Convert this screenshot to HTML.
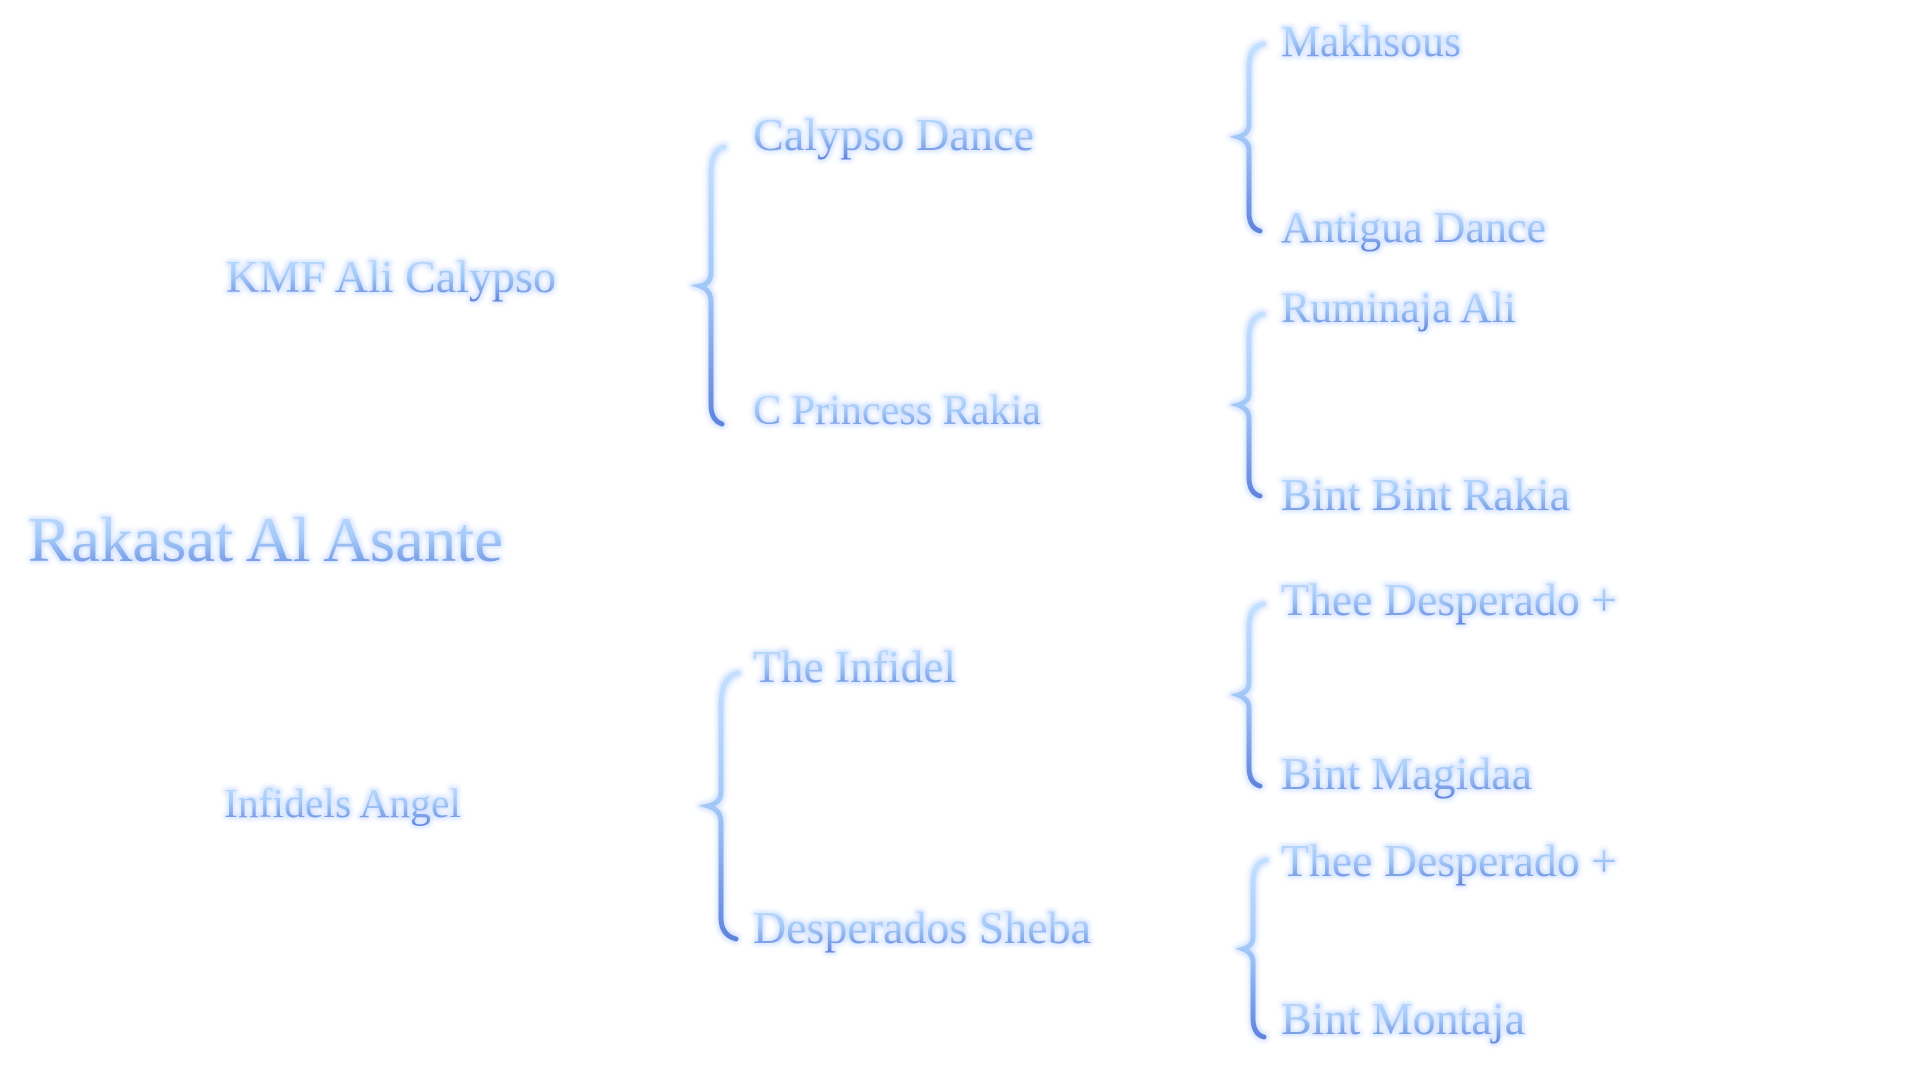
<!DOCTYPE html>
<html><head><meta charset="utf-8"><style>
html,body{margin:0;padding:0;background:#fff;width:1920px;height:1080px;overflow:hidden}
svg{display:block}
text{font-family:"Liberation Serif",serif;}
</style></head><body>
<svg width="1920" height="1080" viewBox="0 0 1920 1080" xmlns="http://www.w3.org/2000/svg">
<defs>
<linearGradient id="g" x1="0" y1="0" x2="0" y2="1">
<stop offset="0" stop-color="#c4e0ff"/><stop offset="0.5" stop-color="#a2c8f8"/><stop offset="1" stop-color="#5f84dc"/>
</linearGradient>
<filter id="glow" x="-10%" y="-30%" width="120%" height="160%">
<feMorphology in="SourceAlpha" operator="dilate" radius="2" result="d"/>
<feGaussianBlur in="d" stdDeviation="2.5" result="b"/>
<feFlood flood-color="#d6e4ff"/>
<feComposite in2="b" operator="in" result="gl"/>
<feMerge><feMergeNode in="gl"/><feMergeNode in="SourceGraphic"/></feMerge>
</filter>
</defs>
<g filter="url(#glow)" fill="url(#g)">
<text x="28" y="561" font-size="64" textLength="475" lengthAdjust="spacingAndGlyphs">Rakasat Al Asante</text>
<text x="226" y="292" font-size="45" textLength="330" lengthAdjust="spacingAndGlyphs">KMF Ali Calypso</text>
<text x="224" y="817" font-size="41" textLength="237" lengthAdjust="spacingAndGlyphs">Infidels Angel</text>
<text x="753" y="150" font-size="46" textLength="281" lengthAdjust="spacingAndGlyphs">Calypso Dance</text>
<text x="753" y="424" font-size="42" textLength="288" lengthAdjust="spacingAndGlyphs">C Princess Rakia</text>
<text x="753" y="682" font-size="45" textLength="203" lengthAdjust="spacingAndGlyphs">The Infidel</text>
<text x="753" y="943" font-size="46" textLength="338" lengthAdjust="spacingAndGlyphs">Desperados Sheba</text>
<text x="1281" y="56" font-size="44" textLength="180" lengthAdjust="spacingAndGlyphs">Makhsous</text>
<text x="1281" y="242" font-size="44" textLength="265" lengthAdjust="spacingAndGlyphs">Antigua Dance</text>
<text x="1281" y="322" font-size="43" textLength="235" lengthAdjust="spacingAndGlyphs">Ruminaja Ali</text>
<text x="1281" y="510" font-size="46" textLength="289" lengthAdjust="spacingAndGlyphs">Bint Bint Rakia</text>
<text x="1281" y="615" font-size="46" textLength="336" lengthAdjust="spacingAndGlyphs">Thee Desperado +</text>
<text x="1281" y="789" font-size="46" textLength="251" lengthAdjust="spacingAndGlyphs">Bint Magidaa</text>
<text x="1281" y="876" font-size="46" textLength="336" lengthAdjust="spacingAndGlyphs">Thee Desperado +</text>
<text x="1281" y="1034" font-size="46" textLength="244" lengthAdjust="spacingAndGlyphs">Bint Montaja</text>
</g>
<g filter="url(#glow)" fill="none" stroke="url(#g)" stroke-width="5" stroke-linecap="round">
<path d="M724 147 Q711 150 711 175 L711 272 Q711 284 700 286 Q711 290 711 302 L711 405 Q711 420 722 424"/>
<path d="M1263 44 Q1249 47 1249 68 L1249 124 Q1249 134 1238 137 Q1249 141 1249 150 L1249 212 Q1249 228 1260 231"/>
<path d="M1263 314 Q1249 317 1249 338 L1249 393 Q1249 402 1238 405 Q1249 409 1249 418 L1249 477 Q1249 493 1260 496"/>
<path d="M1263 604 Q1249 607 1249 628 L1249 683 Q1249 692 1238 695 Q1249 699 1249 708 L1249 767 Q1249 783 1260 786"/>
<path d="M738 673 Q721 677 721 705 L721 792 Q721 803 708 806 Q721 810 721 822 L721 918 Q721 935 736 939"/>
<path d="M1266 860 Q1253 863 1253 884 L1253 937 Q1253 946 1243 949 Q1253 953 1253 962 L1253 1018 Q1253 1034 1264 1037"/>
</g>
</svg>
</body></html>
